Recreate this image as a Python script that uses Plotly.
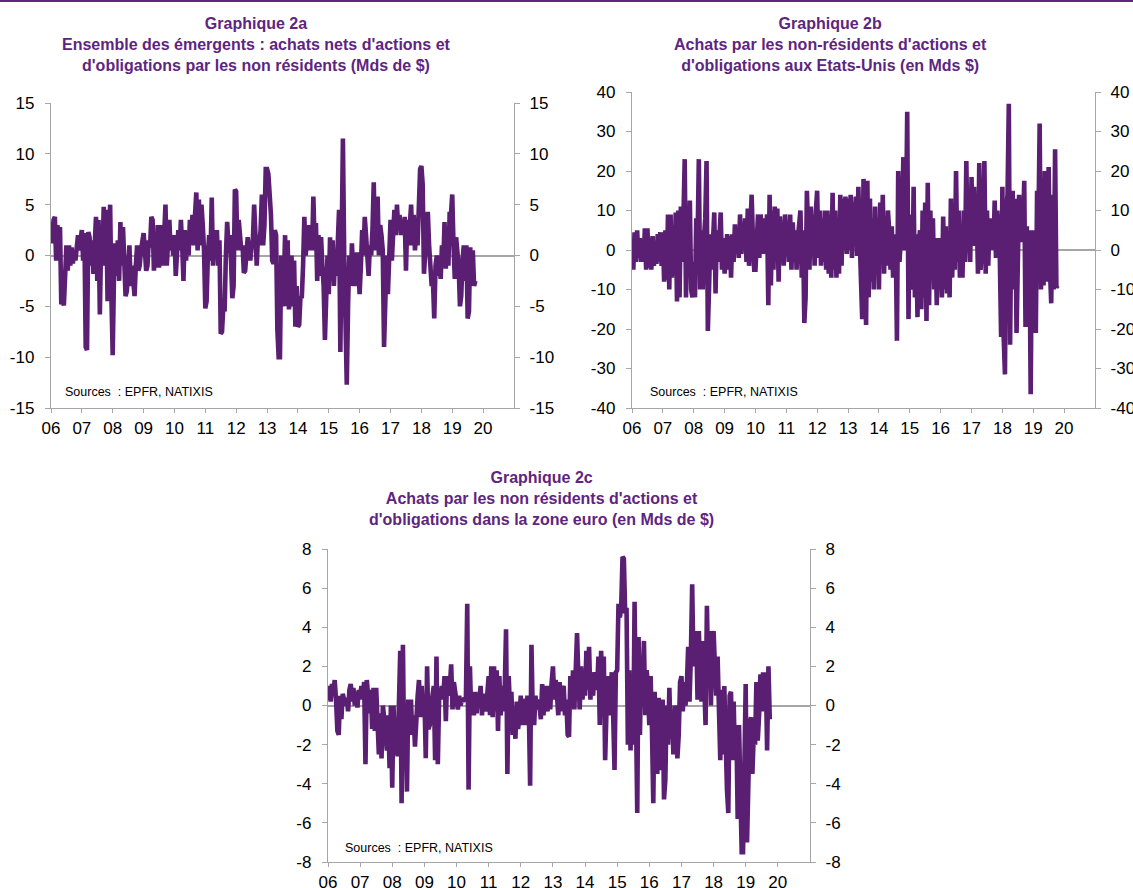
import pandas as pd
import plotly.graph_objects as go

W, H = 1133, 888
PURPLE = "#5A1E72"
TITLE_PURPLE = "#5E2580"
GREY = "#A6A6A6"

YEARS = list(range(2006, 2020))

# Graphique 2a : ensemble des émergents (Mds $), ~2 obs. / mois, une ligne par année
EMERGENTS = [
    [3.3, 1.2, 3.5, 3.8, -0.5, 3.0, -0.3, 2.8, -4.8, -4.5, -4.9, -1.8, 1.0, -1.5, 1.0, -1.0, 0.8, -0.8, 0.5, -0.5, 1.5, 2.0, 0.5, 2.3],
    [2.5, -0.5, 2.2, -9.0, -9.3, 2.3, 1.8, -1.0, 1.5, -1.8, 0.5, 3.8, -2.5, 3.5, -5.8, 1.5, -0.5, 4.8, -1.0, 4.5, -4.5, 1.5, 5.0, -4.0],
    [-9.8, -2.0, 1.2, -2.0, 1.5, -2.5, 3.3, -1.0, 2.8, -0.5, -4.0, -3.5, -0.5, 1.0, -3.0, -1.0, -2.5, -4.0, -1.0, 1.0, -1.5, -1.0, 0.5, 1.8],
    [2.2, 0.5, -1.5, -1.0, 1.5, 0.8, 3.8, 3.5, -1.5, 1.0, -1.2, 3.0, -1.2, 3.0, 1.0, -1.0, 2.0, 5.0, -1.0, 1.5, 3.5, 0.5, 2.0, 0.0],
    [2.0, -2.0, 1.0, 2.5, 0.5, 3.5, 1.0, -2.5, 2.5, -0.5, 1.5, 0.0, 3.5, 1.5, 4.0, 1.0, 4.0, 6.2, 0.5, 5.5, 1.0, 5.0, 3.0, 0.5],
    [-5.2, -4.5, 0.0, 2.0, -0.5, 5.7, -1.0, 2.0, 0.0, 2.5, -1.0, 1.5, -7.7, -7.5, -5.0, -5.5, 0.0, 3.3, 1.0, 2.0, -0.5, -4.2, -3.0, 6.5],
    [6.3, 0.5, 3.5, 1.5, 0.5, 1.0, -1.7, -1.5, 1.0, 1.8, 0.5, -0.5, 1.0, 1.5, 5.0, 1.0, -1.0, 2.0, 1.0, 2.5, 6.0, 1.0, 3.0, 8.5],
    [8.5, 8.0, 6.0, 4.0, -0.5, -0.8, 2.5, 2.0, -7.3, -10.0, -10.0, 0.0, -5.0, -3.0, 2.0, -5.0, 1.5, -5.3, -4.0, 0.0, -5.0, -0.5, -7.0, -3.0],
    [-7.0, -6.8, -4.0, -4.2, -1.0, 3.8, 0.0, 2.5, 3.0, 0.5, 2.8, 0.5, 5.8, 1.0, 3.2, -2.5, 2.0, -2.0, 1.8, -1.0, -3.0, -8.3, -2.0, 0.0],
    [-3.8, 1.8, -2.5, 1.5, -3.0, 0.5, -2.0, 2.0, 4.5, -9.5, -1.0, 11.5, 0.0, -7.0, -12.7, -5.0, 0.0, -3.0, 1.2, -1.5, -3.0, -2.0, 0.3, -1.0],
    [-3.8, -1.0, 2.5, 0.0, 3.8, 2.0, -1.5, -2.0, 1.0, 0.0, 2.5, 7.2, 0.5, 3.0, 5.8, 0.0, 3.0, 2.0, 0.5, -9.0, -3.5, 0.0, -3.8, 2.0],
    [3.5, -0.5, 3.0, 4.5, 2.0, 5.0, 2.5, 4.0, 2.0, 3.5, 2.0, 3.8, -1.5, 3.5, 1.0, 2.5, 5.0, 1.0, 4.0, 0.5, 2.5, 1.0, 6.0, 8.5],
    [8.8, 7.0, -1.8, 1.0, 3.5, 4.3, 1.0, -2.0, -3.0, -2.5, -6.2, -1.0, 0.0, -2.0, -0.5, -2.3, 1.0, -1.0, 3.3, -1.3, 2.0, -1.0, 4.3, 4.0],
    [6.0, 1.0, -2.3, 1.8, 0.5, -1.0, -5.0, -4.0, -0.5, 1.0, -2.5, 1.0, -6.2, -5.5, 0.8, -3.0, 0.5, -3.0, -2.5],
]

# Graphique 2b : Etats-Unis (Mds $)
ETATS_UNIS = [
    [2, -5, 4.5, -3, 5, -2, 3, -3, 1, -3, 5.5, -5, 5.5, -4.5, 3, -5, 3.5, -4, 2, -3.5, 4, -3, 4.5, -4],
    [4.5, -8, 5, -7.5, 9, -10, 9, -7, 3, -6, 9.5, -13, 10, -12, 11, -3, 8, 23, -12, 7, -5, 12.5, -10, -12],
    [-3, -12, 8, 2, 23, -10, 5, -10, 3, 8, 22.5, -20.5, -9, 4, -5, 6, 9.5, -11, 5, -3, 2, 9.5, -5, 3],
    [-6, 2, 4, -5, 3.5, -7, 4, -3, 6.5, -1, 5, -2, 9, -1, 7, 0, 8, -3, 10.5, -4, 11, 14, 3, -5],
    [-5, 5, 9, -2, 9, 5, -1, 8, 2, 9, -14, 14, -9, 10, -5, 11, 3, 10.5, -8, 8.5, 3, 7, -4, 9],
    [1, 6, -3, 9, -5, 7, 0, 5, -5, 3, 6, 10, -7, 5, -18.5, -12, 15, 8, -5, 11, 2, 9, -4, 10],
    [15, -2, 10, -4, 8, -3, 10, -5, 10, -6, 9, -7, 14.5, -5, 10, -7, 8, -6, 14, -4, 13, 0, 13.5, -1],
    [13, 0, 14, -2, 12, 5, 13.5, -1.5, 16, 3, -11, -17.5, 18, 5, -19, 17.5, -12, 13, -8, 6, -10, 11, -5, 8],
    [-10, 12, -3, 14, -6, 8, -4, 10, 5, -5, 6, -7, 2, 4, -23, 20, -3, 2, 8, 23.5, 0, 5, 35, -17.5],
    [9, -5, -10, 16, -12, 4, -17, 2, 5, -15, 10, -12, 12, -18, 17, -14, 10, -5, 8, -10, 3, -14, 3, -8],
    [3, -12, 8.5, -10, 6, -11, 4, -12, 13, -7, 5, -5, 20, -3, 10, -7, 5, -7, 10, -3, 22.5, 0, 5, -3],
    [18.5, 1, 16, 2, 10, -6, 22, -5, 3, 5, 22.5, -6, 10, -4, 8, 2, 7, 0, 12.5, -2, 10, 5, -2, -22],
    [16, -22, -31.5, 10, 14, 37, -24, 10, 15, -10, 13, -21, 0, 14, 2, 11, 5, 17.5, -19.5, 6, -15, 5, -36.5, 5],
    [-10, 5, -21, 15, 5, 32, -10, 10, -9, 20, -8, 5, 21, -5, -13.5, 14, -10, 25.5, -9.5, -9],
]

# Graphique 2c : zone euro (Mds $)
ZONE_EURO = [
    [0.3, 1.0, 0.2, 1.1, 0.7, 1.3, 0.3, -1.3, -1.5, 0.5, -0.7, 0.6, 0.3, 0.0, 0.4, -0.3, 0.8, 1.1, 0.2, 0.9, 0.0, 0.7, -0.1, 0.8],
    [0.5, 1.0, 0.3, 1.2, -3.0, 1.3, 0.5, -0.4, 0.8, -1.2, 0.9, -1.3, 0.9, -1.7, -2.5, -0.4, -2.7, 0.0, -0.5, -1.3, -2.3, -0.5, -3.2, 0.0],
    [-4.2, 0.0, -2.5, -1.0, -2.6, -0.5, 2.8, -5.0, 3.1, -3.0, -1.0, -4.4, 0.3, -1.0, 0.3, -1.5, -0.5, -2.1, -0.5, 0.5, 1.3, -0.6, 1.0, -0.5],
    [0.5, -2.7, 2.0, -1.2, -1.0, 0.3, 0.5, 1.0, -2.8, 2.5, -3.0, 0.4, 0.5, 1.0, 0.3, 1.5, -0.8, 1.5, 0.5, 1.0, 2.1, -0.2, 1.2, 0.7],
    [0.3, -0.2, 0.5, 0.0, 0.3, 0.2, 0.4, 0.3, 5.2, -4.3, 2.0, -0.5, 0.5, -0.5, 0.7, -0.4, 0.6, 0.2, 1.0, -0.5, 0.6, 0.3, -0.3, 0.8],
    [1.5, -0.5, 2.0, -0.6, 2.0, -0.3, 1.8, -1.3, 1.5, -0.5, 1.0, -0.3, 0.8, 3.9, -3.5, 1.5, -0.3, 0.7, -1.5, -0.5, -1.7, 0.2, -1.2, -0.6],
    [0.5, -1.0, 0.3, 0.2, -1.0, 0.5, 0.0, -4.1, 3.1, -0.5, -1.0, 0.5, -0.2, 0.3, 0.0, -0.7, 1.1, -0.5, 1.0, 0.2, -0.3, 1.0, -0.2, 1.1],
    [2.0, 0.3, 1.3, 0.5, -0.5, 1.2, -0.3, 0.8, 1.0, -0.5, 0.3, -1.5, -1.6, 1.5, 0.0, 1.8, -0.2, 1.8, 3.7, 1.5, -0.2, 2.0, 0.3, 1.0],
    [0.5, 2.8, 0.8, 3.0, 0.3, 1.5, 0.5, 1.7, 1.0, 0.8, 2.5, -1.0, 2.8, 1.0, 2.5, -2.8, -0.3, 1.5, -0.5, 0.3, 1.7, -0.5, -3.3, 1.7],
    [1.8, 5.2, 4.5, 5.0, 7.6, 7.5, 4.7, 5.0, -2.0, 1.8, -2.3, 1.5, -2.0, 5.3, 0.0, -5.5, 3.5, -1.5, 2.0, 1.0, 3.3, -0.5, 1.8, 1.0],
    [-1.0, 1.5, -1.2, -5.0, 0.7, -1.3, -3.5, 0.4, -3.3, -2.0, 0.3, -4.8, -3.8, 0.0, -2.0, 0.9, -1.7, -0.3, -2.5, 0.0, -0.5, -2.7, -1.5, 1.2],
    [1.5, -0.3, 1.2, 0.0, 1.0, 3.0, 0.2, 2.5, 6.2, 2.0, 3.0, 3.8, 0.3, 3.8, 1.2, 0.2, 3.3, 1.5, -1.0, 5.1, 1.5, 3.8, 0.0, 3.5],
    [3.8, 2.0, 0.5, 2.5, -1.0, -2.8, 0.8, -2.5, 1.0, -3.3, -4.3, -5.5, 0.5, 0.7, -2.8, 0.2, -2.8, -1.0, -5.8, -1.0, -5.0, -7.5, -7.5, -2.0],
    [1.1, -7.0, -4.0, -1.0, -0.6, -3.5, -1.5, -2.0, 1.2, -1.8, -0.5, 1.6, -0.3, 1.7, 0.0, 1.7, -2.3, 2.0, -0.7],
]

X_TICK_YEARS = list(range(2006, 2021))
X_TICK_LABELS = ["06", "07", "08", "09", "10", "11", "12", "13", "14", "15", "16", "17", "18", "19", "20"]
Y_TICKS_A = [-15, -10, -5, 0, 5, 10, 15]
Y_TICKS_B = [-40, -30, -20, -10, 0, 10, 20, 30, 40]
Y_TICKS_C = [-8, -6, -4, -2, 0, 2, 4, 6, 8]

TITLES = [
    "Graphique 2a<br>Ensemble des émergents : achats nets d'actions et<br>d'obligations par les non résidents (Mds de $)",
    "Graphique 2b<br>Achats par les non-résidents d'actions et<br>d'obligations aux Etats-Unis (en Mds $)",
    "Graphique 2c<br>Achats par les non résidents d'actions et<br>d'obligations dans la zone euro (en Mds de $)",
]
SOURCE = "Sources\u00a0 : EPFR, NATIXIS"


def to_series(rows):
    xs, ys = [], []
    for yr, row in zip(YEARS, rows):
        for i, v in enumerate(row):
            xs.append(pd.Timestamp(yr, 1, 1) + pd.Timedelta(days=i * 365.25 / 24))
            ys.append(v)
    return xs, ys


def px_x(p):
    return p / W


def px_y(p):
    return 1 - p / H


FONT = "Liberation Sans, Arial, sans-serif"

# panel geometry (pixels): left, right, top, bottom
PANELS = [
    (EMERGENTS, Y_TICKS_A, (51, 514, 103, 408)),
    (ETATS_UNIS, Y_TICKS_B, (632, 1095, 92, 408)),
    (ZONE_EURO, Y_TICKS_C, (328, 810, 549, 862)),
]

fig = go.Figure()
layout = dict(
    width=W, height=H, margin=dict(l=0, r=0, t=0, b=0, autoexpand=False),
    paper_bgcolor="white", plot_bgcolor="white", showlegend=False,
    font=dict(family=FONT, color="black"),
)

xdates = [f"{y}-01-01" for y in X_TICK_YEARS]
for k, (rows, yt, (l, r, t, b)) in enumerate(PANELS):
    n = k + 1
    xs, ys = to_series(rows)
    xname = "x" if n == 1 else f"x{n}"
    yname = "y" if n == 1 else f"y{n}"
    yr_name = f"y{n + 3}"
    fig.add_trace(go.Scatter(x=xs, y=ys, mode="lines", xaxis=xname, yaxis=yname,
                             line=dict(color=PURPLE, width=4.6), hoverinfo="skip"))
    fig.add_trace(go.Scatter(x=[xs[0]], y=[None], mode="lines", xaxis=xname, yaxis=yr_name,
                             hoverinfo="skip"))
    axis_common = dict(showgrid=False, showline=True, linecolor=GREY, linewidth=1.3,
                       ticks="outside", tickcolor=GREY, tickwidth=1.3, automargin=False,
                       tickfont=dict(size=17, family=FONT, color="black"))
    layout["xaxis" if n == 1 else f"xaxis{n}"] = dict(
        domain=[px_x(l), px_x(r)], anchor=yname, type="date",
        range=["2006-01-01", "2021-01-01"], tickvals=xdates, ticktext=X_TICK_LABELS,
        ticklen=4, zeroline=False, **axis_common)
    yrange = [yt[0], yt[-1]]
    ylabels = [str(v) for v in yt]
    layout["yaxis" if n == 1 else f"yaxis{n}"] = dict(
        domain=[px_y(b), px_y(t)], anchor=xname, range=yrange,
        tickvals=yt, ticktext=ylabels, ticklen=5, ticklabelstandoff=7,
        zeroline=True, zerolinecolor=GREY, zerolinewidth=1.6, **axis_common)
    layout[f"yaxis{n + 3}"] = dict(
        domain=[px_y(b), px_y(t)], anchor=xname, overlaying=yname, side="right",
        range=yrange, tickvals=yt, ticktext=ylabels, ticklen=5, ticklabelstandoff=6,
        zeroline=False, **axis_common)

annotations = []
title_pos = [(256, 13), (831, 13), (541, 467)]
for txt, (cx, ty) in zip(TITLES, title_pos):
    annotations.append(dict(text=f"<b>{txt}</b>", x=px_x(cx), y=px_y(ty), xref="paper", yref="paper",
                            xanchor="center", yanchor="top", showarrow=False, align="center",
                            font=dict(family=FONT, size=16, color=TITLE_PURPLE)))
source_pos = [(63, 392), (648, 392), (343, 848)]
for sx, sy in source_pos:
    annotations.append(dict(text=SOURCE, x=px_x(sx), y=px_y(sy), xref="paper", yref="paper",
                            xanchor="left", yanchor="middle", showarrow=False,
                            font=dict(family=FONT, size=12.5, color="black")))
layout["annotations"] = annotations
layout["shapes"] = [dict(type="line", xref="paper", yref="paper", x0=0, x1=1, y0=px_y(1), y1=px_y(1),
                         line=dict(color=TITLE_PURPLE, width=2))]

fig.update_layout(**layout)
fig.write_html(
    "out.html",
    config={"displayModeBar": False},
    post_script="document.body.style.margin='0';document.body.style.overflow='hidden';",
)
